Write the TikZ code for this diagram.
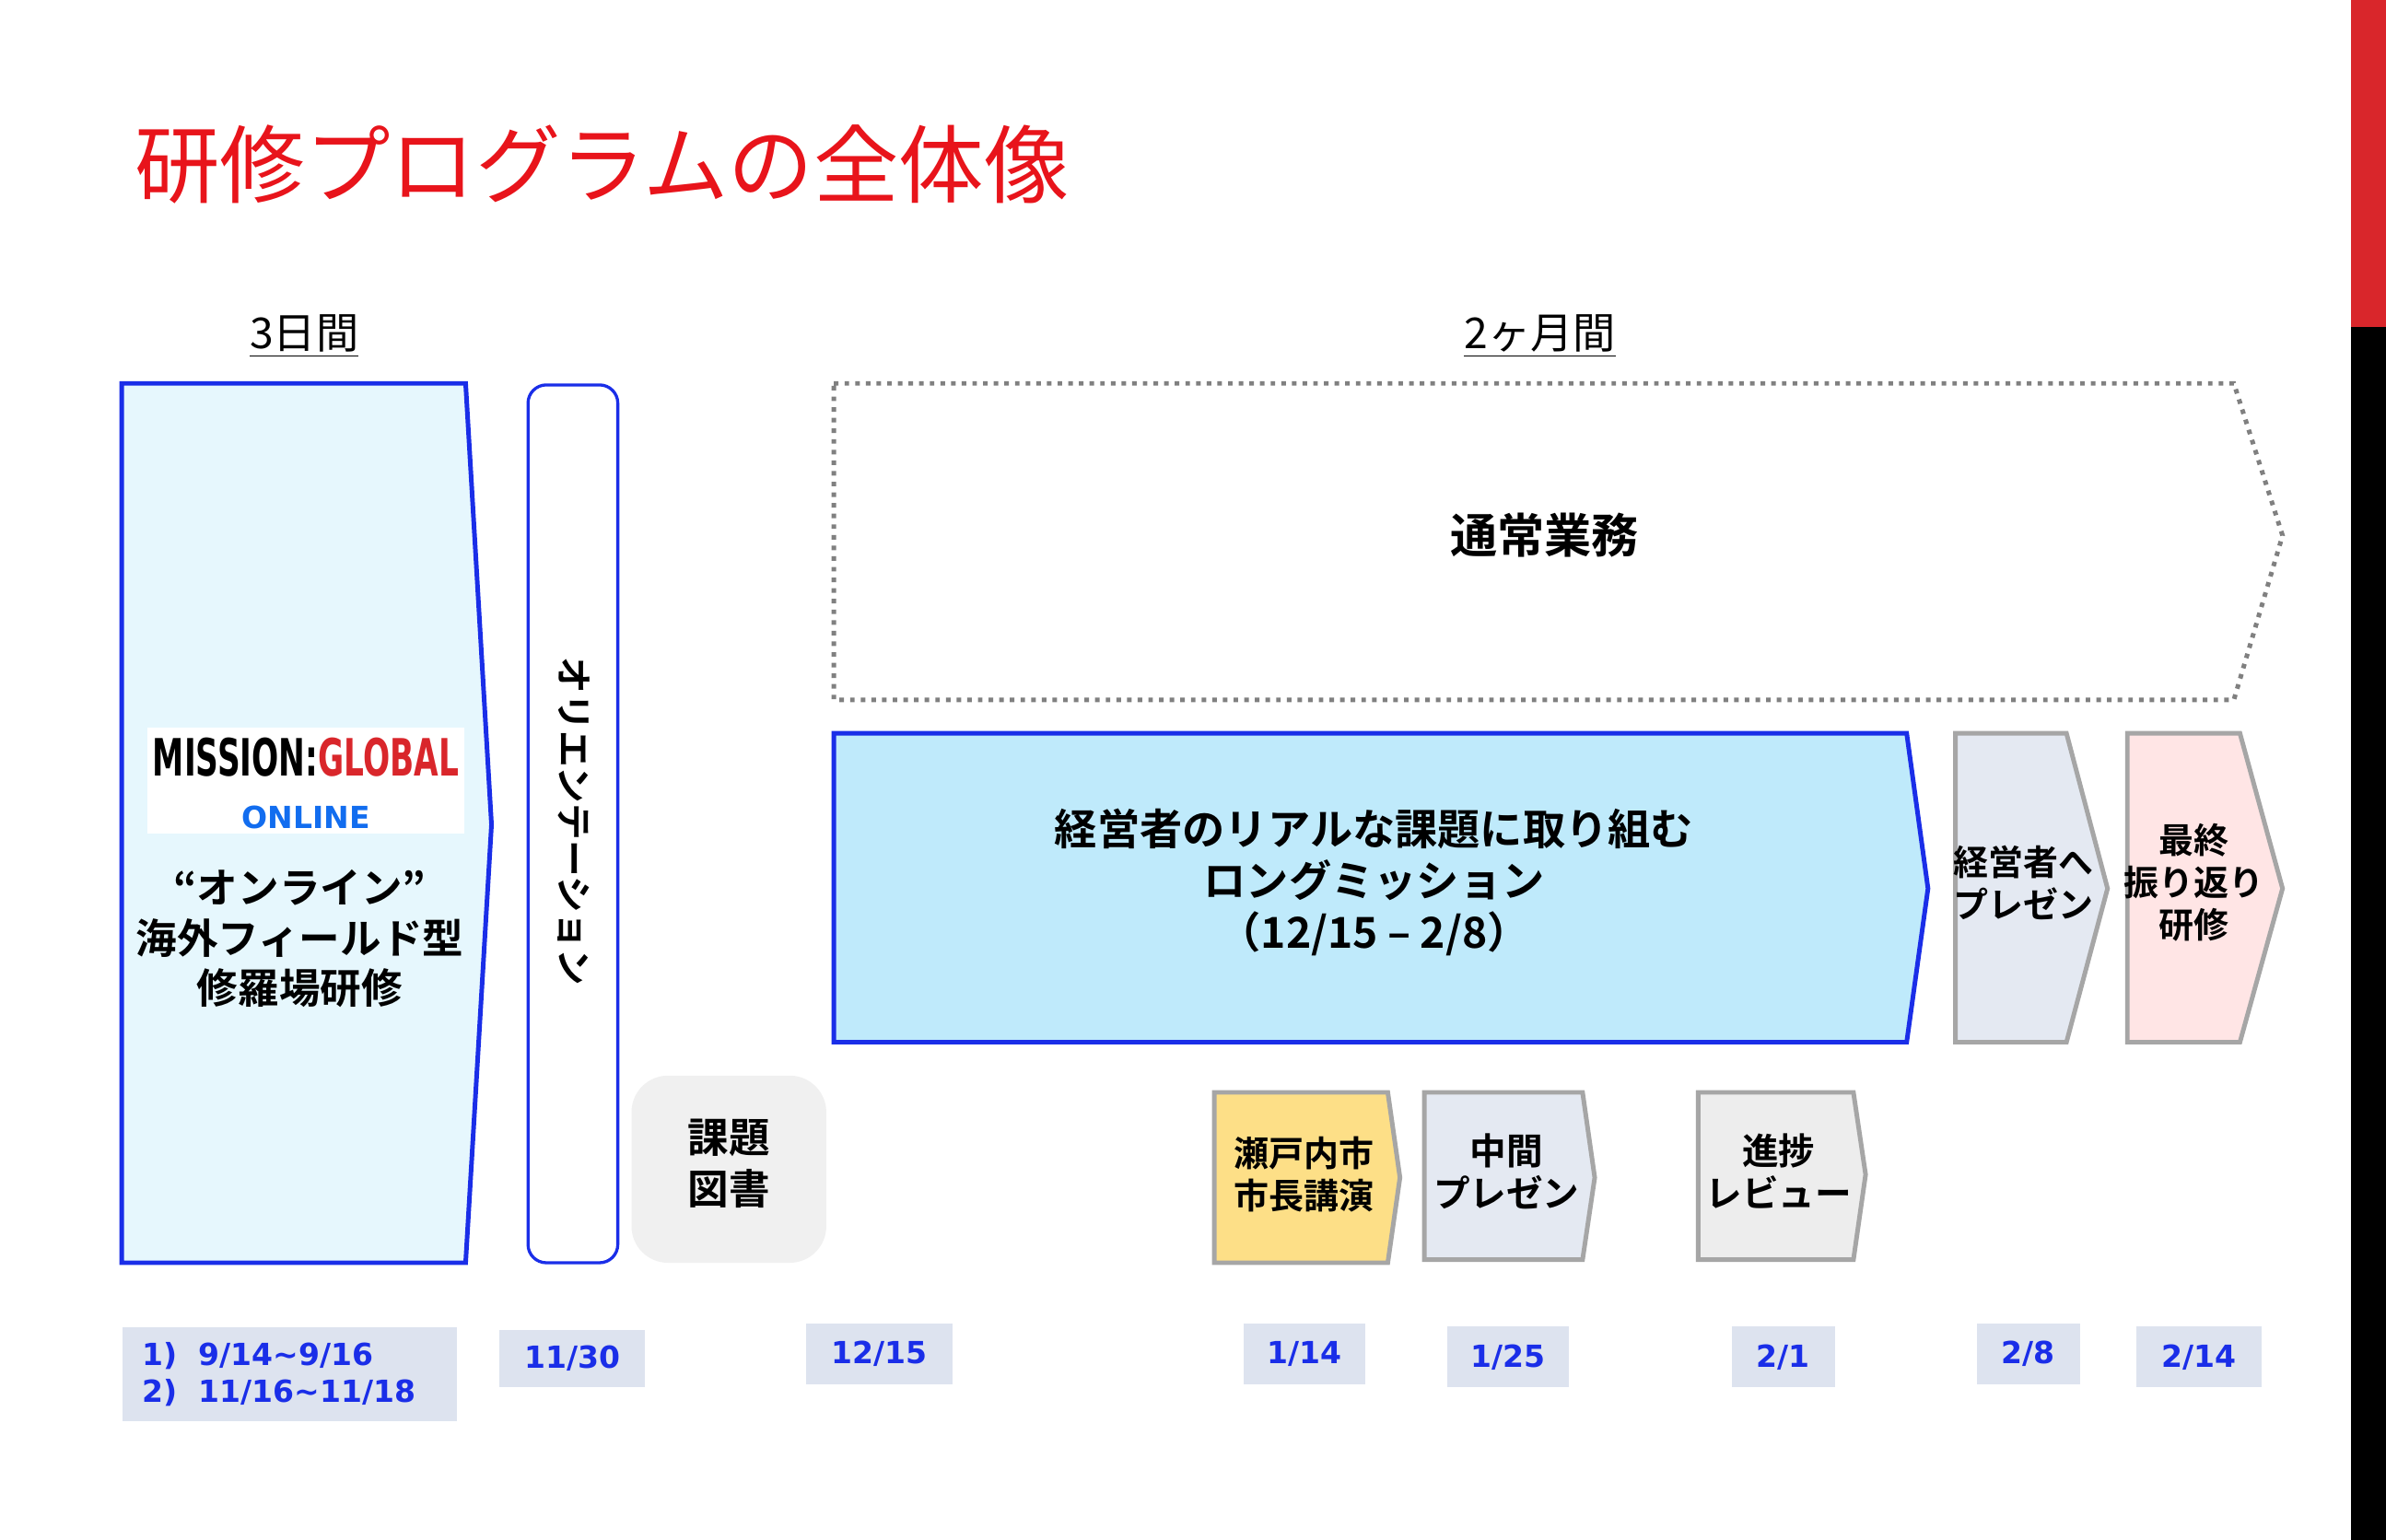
\documentclass[tikz,border=0pt]{standalone}
\usepackage{fontspec}
\usepackage{graphicx}
\setmainfont{Noto Sans CJK JP}
\newfontfamily\jpb{Noto Sans CJK JP Bold}
\newfontfamily\dv{DejaVu Sans}
\definecolor{myblue}{HTML}{1A2EE8}
\definecolor{myred}{HTML}{E8141B}
\definecolor{barred}{HTML}{D9262B}
\definecolor{gborder}{HTML}{A6A6A6}
\definecolor{datefill}{HTML}{DDE3EF}
\tikzset{
 bigblue/.style={draw=myblue,line width=1.5pt},
 chev/.style={draw=gborder,line width=1.5pt},
 txt/.style={font=\jpb\fontsize{13.5}{16.5}\selectfont,align=center,text=black},
 ctxt/.style={font=\jpb\fontsize{11.5}{14}\selectfont,align=center,text=black},
 datebox/.style={fill=datefill,text=myblue,font=\dv\bfseries\fontsize{10}{12}\selectfont,inner sep=0pt},
}
\begin{document}
\begin{tikzpicture}[x=0.5pt,y=-0.5pt]
\useasboundingbox (0,0) rectangle (1568,1012);
\fill[white] (0,0) rectangle (1568,1012);
\fill[barred] (1545,0) rectangle (1568,215);
\fill[black] (1545,215) rectangle (1568,1012);
\node[anchor=west,text=myred,font=\fontsize{28}{30}\selectfont,inner sep=0pt] (title) at (88,108) {研修プログラムの全体像};
\node[font=\fontsize{14}{16}\selectfont,inner sep=1pt] (d3) at (200,221) {\underline{3日間}};
\node[font=\fontsize{14}{16}\selectfont,inner sep=1pt] (m2) at (1012,221) {\underline{2ヶ月間}};
% left big
\draw[bigblue,fill=cyan!10!white] (80,252)--(306,252)--(323,542)--(306,830)--(80,830)--cycle;
\fill[white] (97,478) rectangle (305,548);
\node[inner sep=0pt,font=\dv\bfseries\fontsize{13}{13}\selectfont] (logo) at (201,498) {\scalebox{0.8}[1.3]{MISSION:\textcolor{barred}{GLOBAL}}};
\node[inner sep=0pt,font=\dv\bfseries\fontsize{10}{12}\selectfont,text=myblue!70!cyan] (online) at (201,537) {ONLINE};
\node[txt] (mg) at (197,617) {“オンライン”\\海外フィールド型\\修羅場研修};
% orientation
\draw[draw=myblue,line width=1pt,rounded corners=6pt,fill=white] (347,253) rectangle (406,830);
\node[txt,rotate=-90,font=\jpb\fontsize{12}{14}\selectfont] (ori) at (377,540) {オリエンテーション};
% normal work
\draw[gray,line width=1.5pt,dotted] (548,252)--(1468,252)--(1500,352)--(1468,460)--(548,460)--cycle;
\node[font=\jpb\fontsize{15.5}{18}\selectfont] (work) at (1015,352) {通常業務};
% long mission
\draw[bigblue,fill=cyan!25!white] (548,482)--(1253,482)--(1267,584)--(1253,685)--(548,685)--cycle;
\node[txt,font=\jpb\fontsize{14}{17}\selectfont] (lm) at (903,580) {経営者のリアルな課題に取り組む\\ロングミッション\\（12/15 – 2/8）};
\draw[chev,fill=datefill!80!white] (1285,482)--(1358,482)--(1385,584)--(1358,685)--(1285,685)--cycle;
\node[ctxt] (pres) at (1330,580) {経営者へ\\プレゼン};
\draw[chev,fill=red!10!white] (1398,482)--(1472,482)--(1500,584)--(1472,685)--(1398,685)--cycle;
\node[ctxt] (fin) at (1442,580) {最終\\振り返り\\研修};
% book
\fill[black!6,rounded corners=12pt] (415,707) rectangle (543,830);
\node[ctxt,font=\jpb\fontsize{13.5}{17}\selectfont] (book) at (479,765) {課題\\図書};
\draw[chev,fill=yellow!50!orange!45!white] (798,718)--(912,718)--(920,774)--(912,830)--(798,830)--cycle;
\node[ctxt,font=\jpb\fontsize{11.5}{14}\selectfont] (mayor) at (857,772) {瀬戸内市\\市長講演};
\draw[chev,fill=datefill!80!white] (936,718)--(1040,718)--(1048,774)--(1040,828)--(936,828)--cycle;
\node[ctxt,font=\jpb\fontsize{12}{14}\selectfont] (mid) at (990,770) {中間\\プレゼン};
\draw[chev,fill=black!7] (1116,718)--(1218,718)--(1226,772)--(1218,828)--(1116,828)--cycle;
\node[ctxt,font=\jpb\fontsize{12}{14}\selectfont] (rev) at (1169,770) {進捗\\レビュー};
% dates
\node[datebox,minimum width=110pt,minimum height=31pt,align=left,anchor=north west] (dt1) at (80,872) {\hspace*{3pt}1)\ \ 9/14\textasciitilde 9/16\\ \hspace*{3pt}2)\ \ 11/16\textasciitilde 11/18\hspace*{10pt}};
\node[datebox,minimum width=48pt,minimum height=19pt] (dt2) at (376,893) {11/30};
\node[datebox,minimum width=48pt,minimum height=20pt] (dt3) at (578,890) {12/15};
\node[datebox,minimum width=40pt,minimum height=20pt] (dt4) at (857,890) {1/14};
\node[datebox,minimum width=40pt,minimum height=20pt] (dt5) at (991,892) {1/25};
\node[datebox,minimum width=34pt,minimum height=20pt] (dt6) at (1172,892) {2/1};
\node[datebox,minimum width=34pt,minimum height=20pt] (dt7) at (1333,890) {2/8};
\node[datebox,minimum width=41pt,minimum height=20pt] (dt8) at (1445,892) {2/14};
\end{tikzpicture}
\end{document}
